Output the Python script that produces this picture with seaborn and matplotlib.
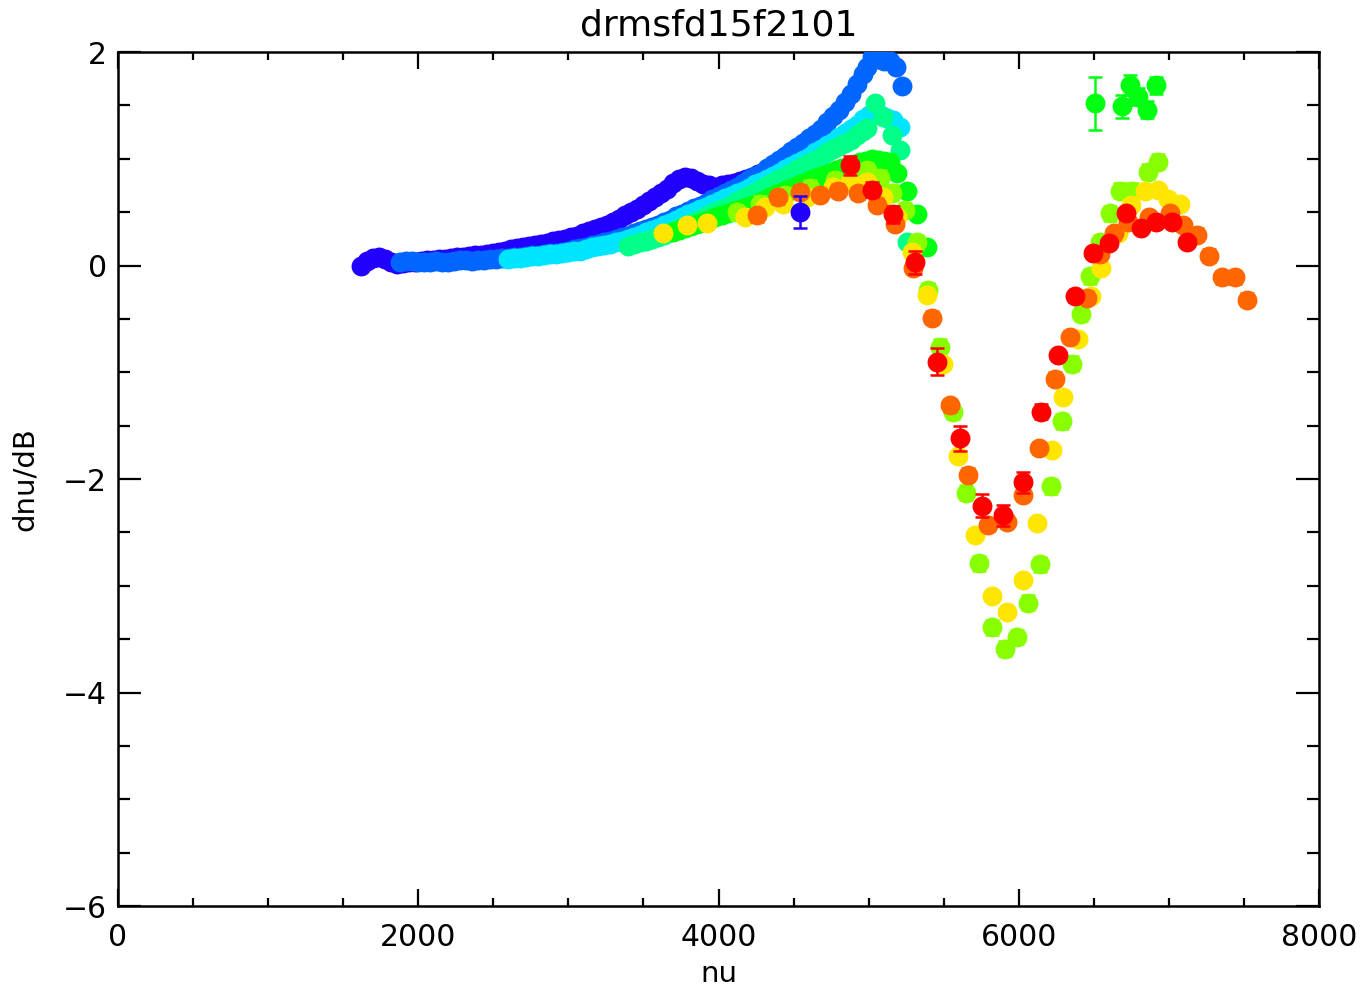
import numpy as np
import pandas as pd
import matplotlib
matplotlib.use("Agg")
import matplotlib.pyplot as plt
import seaborn as sns
from matplotlib.ticker import MultipleLocator

# ---------------- data ----------------
violet_nu = [1620, 1660, 1700, 1740, 1780, 1820, 1860, 1900, 1940, 1980, 2020, 2060, 2100, 2140,
             2180, 2220, 2260, 2300, 2340, 2380, 2420, 2460, 2500, 2540, 2580, 2620, 2660, 2700,
             2740, 2780, 2820, 2860, 2900, 2940, 2980, 3020, 3060, 3100, 3140, 3180, 3220, 3260,
             3300, 3340, 3380, 3420, 3460, 3500, 3540, 3580, 3620, 3660, 3700, 3740, 3780, 3820,
             3860, 3900, 3940, 3980, 4020, 4060, 4100, 4140, 4180, 4220, 4260, 4300, 4340, 4380,
             4420, 4460, 4500]
violet_y = [0.00, 0.04, 0.07, 0.08, 0.06, 0.03, 0.01, 0.02, 0.03, 0.03, 0.04, 0.05, 0.05, 0.06,
            0.06, 0.07, 0.08, 0.08, 0.09, 0.10, 0.10, 0.11, 0.12, 0.13, 0.14, 0.15, 0.16, 0.17,
            0.18, 0.19, 0.20, 0.21, 0.23, 0.24, 0.25, 0.27, 0.28, 0.30, 0.32, 0.34, 0.36, 0.38,
            0.41, 0.44, 0.47, 0.50, 0.53, 0.57, 0.60, 0.64, 0.68, 0.72, 0.77, 0.81, 0.83, 0.82,
            0.79, 0.76, 0.75, 0.74, 0.75, 0.76, 0.77, 0.79, 0.81, 0.83, 0.86, 0.88, 0.91, 0.94,
            0.97, 1.01, 1.04]

blue_nu = [1880, 1920, 1960, 2000, 2040, 2080, 2120, 2160, 2200, 2240, 2280, 2320, 2360, 2400,
           2440, 2480, 2520, 2560, 2600, 2640, 2680, 2720, 2760, 2800, 2840, 2880, 2920, 2960,
           3000, 3040, 3080, 3120, 3160, 3200, 3240, 3280, 3320, 3360, 3400, 3440, 3480, 3520,
           3560, 3600, 3640, 3680, 3720, 3760, 3800, 3840, 3880, 3920, 3960, 4000, 4040, 4080,
           4120, 4160, 4200, 4240, 4280, 4320, 4360, 4400, 4440, 4480, 4520, 4560, 4600, 4640,
           4680, 4720, 4760, 4800, 4840, 4880, 4920, 4960, 4990, 5020, 5060, 5100, 5140, 5180,
           5220]
blue_y = [0.03, 0.04, 0.04, 0.03, 0.03, 0.03, 0.04, 0.03, 0.03, 0.04, 0.05, 0.05, 0.04, 0.05,
          0.05, 0.06, 0.06, 0.07, 0.07, 0.08, 0.08, 0.09, 0.10, 0.10, 0.11, 0.12, 0.12, 0.13,
          0.14, 0.15, 0.16, 0.17, 0.19, 0.20, 0.22, 0.23, 0.25, 0.27, 0.28, 0.30, 0.32, 0.34,
          0.36, 0.38, 0.41, 0.43, 0.46, 0.48, 0.51, 0.54, 0.56, 0.59, 0.62, 0.65, 0.68, 0.71,
          0.74, 0.77, 0.81, 0.84, 0.87, 0.91, 0.95, 0.99, 1.03, 1.07, 1.11, 1.15, 1.19, 1.23,
          1.28, 1.34, 1.40, 1.46, 1.53, 1.61, 1.70, 1.79, 1.86, 1.95, 1.93, 1.92, 1.92, 1.86,
          1.68]

cyan_nu = [2600, 2640, 2680, 2720, 2760, 2800, 2840, 2880, 2920, 2960, 3000, 3040, 3080, 3120,
           3160, 3200, 3240, 3280, 3320, 3360, 3400, 3440, 3480, 3520, 3560, 3600, 3640, 3680,
           3720, 3760, 3800, 3840, 3880, 3920, 3960, 4000, 4040, 4080, 4120, 4160, 4200, 4240,
           4280, 4320, 4360, 4400, 4440, 4480, 4520, 4560, 4600, 4640, 4680, 4720, 4760, 4800,
           4840, 4880, 4920, 4960, 5000, 5040, 5080, 5120, 5160, 5210]
cyan_y = [0.06, 0.07, 0.07, 0.08, 0.09, 0.09, 0.10, 0.11, 0.11, 0.12, 0.13, 0.14, 0.14, 0.15,
          0.17, 0.18, 0.19, 0.20, 0.22, 0.23, 0.25, 0.27, 0.29, 0.31, 0.33, 0.35, 0.38, 0.40,
          0.43, 0.45, 0.48, 0.50, 0.53, 0.55, 0.58, 0.60, 0.63, 0.65, 0.68, 0.70, 0.73, 0.76,
          0.78, 0.81, 0.84, 0.87, 0.90, 0.93, 0.96, 0.99, 1.02, 1.06, 1.09, 1.13, 1.16, 1.20,
          1.24, 1.28, 1.32, 1.37, 1.41, 1.43, 1.41, 1.38, 1.36, 1.30]

aqua_nu = [3400, 3440, 3480, 3520, 3560, 3600, 3640, 3680, 3720, 3760, 3800, 3840, 3880, 3920,
           3960, 4000, 4040, 4080, 4120, 4160, 4200, 4240, 4280, 4320, 4360, 4400, 4440, 4480,
           4520, 4560, 4600, 4640, 4680, 4720, 4760, 4800, 4840, 4880, 4920, 4960, 4990, 5042,
           5096, 5156, 5209, 5256]
aqua_y = [0.18, 0.20, 0.22, 0.23, 0.25, 0.27, 0.29, 0.31, 0.34, 0.36, 0.38, 0.41, 0.44, 0.46,
          0.49, 0.52, 0.54, 0.57, 0.60, 0.63, 0.66, 0.69, 0.72, 0.75, 0.78, 0.81, 0.84, 0.87,
          0.90, 0.93, 0.96, 0.99, 1.02, 1.06, 1.09, 1.12, 1.15, 1.18, 1.22, 1.26, 1.29, 1.52,
          1.39, 1.22, 1.08, 0.22]

green_nu = [3700, 3740, 3780, 3820, 3860, 3900, 3940, 3980, 4020, 4060, 4100, 4140, 4180, 4220,
            4260, 4300, 4340, 4380, 4420, 4460, 4500, 4540, 4580, 4620, 4660, 4700, 4740, 4780,
            4820, 4860, 4900, 4940, 4980, 5020, 5060, 5100, 5140, 5189, 5256, 5322, 5389]
green_y = [0.31, 0.33, 0.35, 0.37, 0.39, 0.41, 0.43, 0.45, 0.47, 0.49, 0.51, 0.53, 0.55, 0.57,
           0.59, 0.61, 0.64, 0.67, 0.69, 0.72, 0.74, 0.76, 0.78, 0.81, 0.83, 0.85, 0.87, 0.89,
           0.91, 0.93, 0.95, 0.97, 0.98, 1.00, 0.99, 0.98, 0.97, 0.87, 0.70, 0.48, 0.17]
green_hi_nu = [6508, 6688, 6741, 6794, 6854, 6914]
green_hi_y = [1.52, 1.49, 1.69, 1.58, 1.46, 1.69]
green_hi_err = [0.25, 0.11, 0.09, 0.08, 0.08, 0.08]

ygreen_nu = [4123, 4276, 4443, 4609, 4776, 4909, 4989, 5076, 5156, 5242, 5322, 5395, 5475, 5562,
             5649, 5735, 5822, 5908, 5988, 6062, 6141, 6215, 6288, 6355, 6415, 6475, 6541, 6608,
             6674, 6754, 6861, 6927]
ygreen_y = [0.50, 0.58, 0.66, 0.73, 0.80, 0.86, 0.89, 0.82, 0.68, 0.52, 0.22, -0.23, -0.76, -1.37,
            -2.13, -2.79, -3.39, -3.59, -3.48, -3.16, -2.80, -2.07, -1.46, -0.92, -0.45, -0.10,
            0.22, 0.49, 0.70, 0.70, 0.88, 0.97]

yellow_nu = [3630, 3790, 3923, 4176, 4310, 4430, 4589, 4763, 4876, 4990, 5096, 5189, 5289, 5389,
             5495, 5595, 5709, 5822, 5922, 6028, 6121, 6221, 6295, 6395, 6481, 6548, 6661, 6748,
             6841, 6927, 6994, 7074]
yellow_y = [0.30, 0.38, 0.40, 0.45, 0.55, 0.58, 0.64, 0.74, 0.78, 0.78, 0.64, 0.45, 0.13, -0.28,
            -0.92, -1.78, -2.52, -3.10, -3.25, -2.95, -2.41, -1.73, -1.23, -0.69, -0.29, -0.02,
            0.30, 0.57, 0.70, 0.71, 0.62, 0.58]

orange_nu = [4256, 4396, 4543, 4676, 4796, 4929, 5056, 5176, 5295, 5422, 5542, 5662, 5795, 5922,
             6028, 6135, 6241, 6341, 6455, 6541, 6634, 6728, 6867, 7007, 7094, 7187, 7267, 7354,
             7440, 7520]
orange_y = [0.47, 0.64, 0.69, 0.66, 0.70, 0.68, 0.57, 0.39, -0.02, -0.49, -1.31, -1.96, -2.43,
            -2.40, -2.15, -1.71, -1.06, -0.67, -0.30, 0.11, 0.30, 0.41, 0.45, 0.49, 0.38, 0.29,
            0.09, -0.11, -0.11, -0.32]

red_nu = [4876, 5022, 5162, 5309, 5455, 5609, 5755, 5895, 6028, 6148, 6261, 6375, 6494, 6601,
          6714, 6814, 6914, 7021, 7121]
red_y = [0.94, 0.71, 0.48, 0.03, -0.90, -1.62, -2.25, -2.34, -2.03, -1.37, -0.84, -0.29, 0.12,
         0.21, 0.49, 0.35, 0.41, 0.41, 0.22]
red_err = [0.09, 0.07, 0.08, 0.11, 0.13, 0.12, 0.11, 0.10, 0.10, 0.07, 0.05, 0.05, 0.05, 0.05,
           0.05, 0.05, 0.05, 0.05, 0.05]

violet_iso_nu = [4543]
violet_iso_y = [0.50]
violet_iso_err = [0.15]

title_text = "drmsfd15f2101"
x_label = "nu"
y_label = "dnu/dB"

# ---------------- style ----------------
sns.set_style("ticks")
plt.rcParams['font.family'] = ['DejaVu Sans']
plt.rcParams['axes.unicode_minus'] = True
plt.rcParams['text.color'] = 'black'
plt.rcParams['axes.labelcolor'] = 'black'
plt.rcParams['xtick.color'] = 'black'
plt.rcParams['ytick.color'] = 'black'

colors = {
    "violet": "#2200ff",
    "blue": "#0066ff",
    "cyan": "#00e5ff",
    "aqua": "#00ff88",
    "green": "#00ff10",
    "ygreen": "#88ff00",
    "yellow": "#ffe600",
    "orange": "#ff6600",
    "red": "#ff0000",
}

fig = plt.figure(figsize=(13.62, 9.92), dpi=100)
ax = fig.add_axes([118 / 1362, 1 - 906 / 992, (1319 - 118) / 1362, (906 - 52) / 992])

S = 205
EKW = dict(fmt="none", elinewidth=1.8, capsize=4.8, capthick=1.8)


def draw(nu, y, color, err=None, z=2):
    if err is not None:
        ax.errorbar(nu, y, yerr=err, ecolor=color, zorder=z, **EKW)
    df = pd.DataFrame({"nu": nu, "dnu": y})
    sns.scatterplot(data=df, x="nu", y="dnu", color=color, s=S, linewidth=0,
                    ax=ax, zorder=z + 0.1, legend=False)


draw(violet_nu, violet_y, colors["violet"], z=2)
draw(blue_nu, blue_y, colors["blue"], z=3)
draw(cyan_nu, cyan_y, colors["cyan"], z=4)
draw(aqua_nu, aqua_y, colors["aqua"], z=5)
draw(green_nu, green_y, colors["green"], err=[0.03] * len(green_nu), z=6)
draw(green_hi_nu, green_hi_y, colors["green"], err=green_hi_err, z=6)
draw(ygreen_nu, ygreen_y, colors["ygreen"], err=[0.07] * len(ygreen_nu), z=7)
draw(yellow_nu, yellow_y, colors["yellow"], err=[0.04] * len(yellow_nu), z=8)
draw(orange_nu, orange_y, colors["orange"], err=[0.06] * len(orange_nu), z=9)
draw(red_nu, red_y, colors["red"], err=red_err, z=10)
draw(violet_iso_nu, violet_iso_y, colors["violet"], err=violet_iso_err, z=11)

ax.set_xlim(0, 8000)
ax.set_ylim(-6, 2)
ax.xaxis.set_major_locator(MultipleLocator(2000))
ax.xaxis.set_minor_locator(MultipleLocator(500))
ax.yaxis.set_major_locator(MultipleLocator(2))
ax.yaxis.set_minor_locator(MultipleLocator(0.5))

ax.tick_params(which="both", direction="in", top=True, right=True, width=1.6,
               color="black", labelsize=21.5, labelcolor="black")
ax.tick_params(axis="x", which="major", length=12, pad=12)
ax.tick_params(axis="x", which="minor", length=6)
ax.tick_params(axis="y", which="major", length=16.5, pad=8)
ax.tick_params(axis="y", which="minor", length=8.5)

for sp in ax.spines.values():
    sp.set_visible(True)
    sp.set_linewidth(1.8)
    sp.set_color("black")

ax.set_title(title_text, fontsize=26, pad=12, color="black")
ax.set_xlabel(x_label, fontsize=21, labelpad=6, color="black")
ax.set_ylabel(y_label, fontsize=21, labelpad=17, color="black")

fig.savefig("out.png", dpi=100, facecolor="white")
